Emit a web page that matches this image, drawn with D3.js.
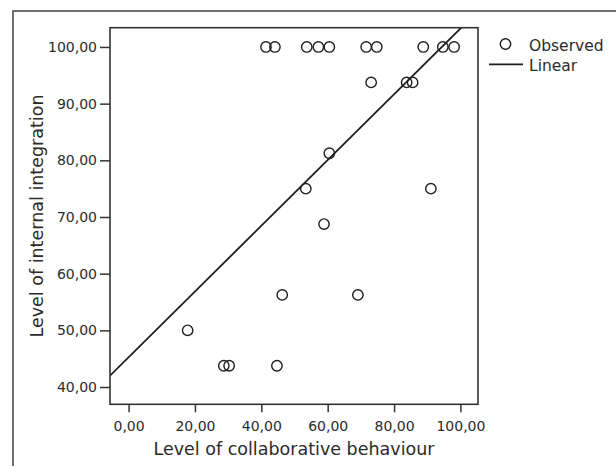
<html>
<head>
<title>Internal integration vs collaborative behaviour</title>
<style>
body { margin: 0; background: #fff; }
svg text { font-family: 'DejaVu Sans', sans-serif; fill: #2b2b2b; }
.axis .domain { display: none; }
.axis line { stroke: #333; stroke-width: 1.5; }
.axis text { font-size: 14px; fill: #2b2b2b; }
</style>
</head>
<body>
<svg id='plot' width='616' height='466'></svg>
<script src='https://cdn.jsdelivr.net/npm/d3@7'></script>
<script>
// observed points
const collab = [41.4, 44.1, 53.7, 57.2, 60.5, 71.6, 74.8, 88.8, 94.7, 98.1,
                73.1, 83.8, 85.6,
                60.5, 53.4, 91.1, 58.9, 46.3, 69.1, 17.8, 28.7, 30.3, 44.7];
const internal = [100, 100, 100, 100, 100, 100, 100, 100, 100, 100,
                  93.75, 93.75, 93.75,
                  81.25, 75, 75, 68.75, 56.25, 56.25, 50, 43.75, 43.75, 43.75];
// fitted line y = a + b x
const fitIntercept = 45.25;
const fitSlope = 0.58;

const xTicks = [0, 20, 40, 60, 80, 100];
const yTicks = [40, 50, 60, 70, 80, 90, 100];
const legendLabels = ['Observed', 'Linear'];

const svg = d3.select('#plot');
const fmt = d3.formatLocale({decimal: ',', thousands: '.', grouping: [3], currency: ['', '']}).format('.2f');

const pLeft = 110, pRight = 478, pTop = 27.7, pBottom = 404.3;
const x = d3.scaleLinear().domain([-5.6, 105.3]).range([pLeft, pRight]);
const y = d3.scaleLinear().domain([36.95, 103.4]).range([pBottom, pTop]);

// outer frame
svg.append('path')
  .attr('d', 'M13,466 L13,11 L620,11')
  .attr('fill', 'none')
  .attr('stroke', '#444')
  .attr('stroke-width', 1.5);

svg.append('defs').append('clipPath').attr('id', 'clip')
  .append('rect')
  .attr('x', pLeft).attr('y', pTop)
  .attr('width', pRight - pLeft).attr('height', pBottom - pTop);

// axes
svg.append('g')
  .attr('class', 'axis')
  .attr('transform', `translate(0,${pBottom})`)
  .call(d3.axisBottom(x).tickValues(xTicks).tickFormat(fmt).tickSize(8).tickPadding(8.5).tickSizeOuter(0));

svg.append('g')
  .attr('class', 'axis')
  .attr('transform', `translate(${pLeft},0)`)
  .call(d3.axisLeft(y).tickValues(yTicks).tickFormat(fmt).tickSize(10).tickPadding(3).tickSizeOuter(0));

// linear fit
const x0 = x.domain()[0], x1 = x.domain()[1];
svg.append('line')
  .attr('clip-path', 'url(#clip)')
  .attr('x1', x(x0)).attr('y1', y(fitIntercept + fitSlope * x0))
  .attr('x2', x(x1)).attr('y2', y(fitIntercept + fitSlope * x1))
  .attr('stroke', '#1e1e1e')
  .attr('stroke-width', 1.8);

// observed
svg.append('g').selectAll('circle')
  .data(collab.map((c, i) => [c, internal[i]]))
  .join('circle')
  .attr('cx', d => x(d[0]))
  .attr('cy', d => y(d[1]))
  .attr('r', 5.2)
  .attr('fill', 'none')
  .attr('stroke', '#1e1e1e')
  .attr('stroke-width', 1.4);

// plot frame
svg.append('rect')
  .attr('x', pLeft).attr('y', pTop)
  .attr('width', pRight - pLeft).attr('height', pBottom - pTop)
  .attr('fill', 'none')
  .attr('stroke', '#333')
  .attr('stroke-width', 1.6);

// axis titles
svg.append('text')
  .attr('x', (pLeft + pRight) / 2)
  .attr('y', 455)
  .attr('text-anchor', 'middle')
  .style('font-size', '17.5px')
  .text('Level of collaborative behaviour');

svg.append('text')
  .attr('transform', `translate(43,${(pTop + pBottom) / 2}) rotate(-90)`)
  .attr('text-anchor', 'middle')
  .style('font-size', '17.5px')
  .text('Level of internal integration');

// legend
const legend = svg.append('g').attr('transform', 'translate(489,44)');
legend.append('circle')
  .attr('cx', 16.5).attr('cy', 0).attr('r', 5.2)
  .attr('fill', 'none').attr('stroke', '#1e1e1e').attr('stroke-width', 1.4);
legend.append('line')
  .attr('x1', 0).attr('x2', 34).attr('y1', 20.3).attr('y2', 20.3)
  .attr('stroke', '#1e1e1e').attr('stroke-width', 1.8);
legend.selectAll('text.lbl')
  .data(legendLabels)
  .join('text')
  .attr('class', 'lbl')
  .attr('x', 40)
  .attr('y', (d, i) => 6.5 + i * 20.5)
  .style('font-size', '15.5px')
  .text(d => d);
</script>
</body>
</html>
